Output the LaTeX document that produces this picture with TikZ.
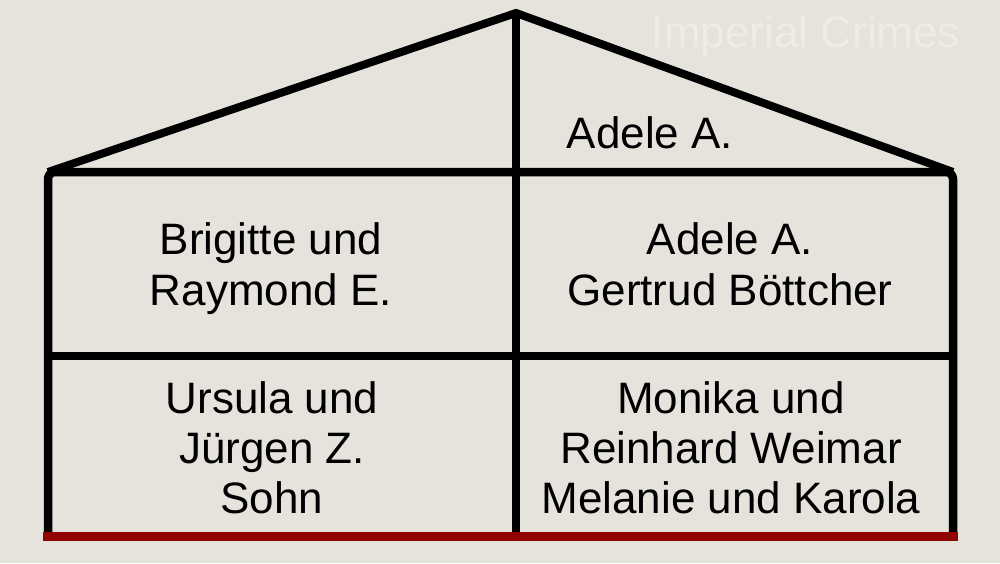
\documentclass[tikz,border=0pt]{standalone}
\usepackage{fontspec}
\setmainfont{Liberation Sans}
\definecolor{bg}{RGB}{230,227,220}
\definecolor{wm}{RGB}{238,236,230}
\definecolor{floorred}{RGB}{145,4,4}
\tikzset{
  wall/.style={line width=8.5pt, line join=round, rounded corners=7pt},
  inner/.style={line width=7.5pt},
  lbl/.style={font=\fontsize{44}{52}\selectfont, anchor=base, inner sep=0pt, text=black},
  wmtext/.style={font=\fontsize{44}{50}\selectfont, anchor=base, inner sep=0pt, text=wm}
}
\begin{document}
\begin{tikzpicture}[x=1pt,y=-1pt]
\useasboundingbox[fill=bg] (0,0) rectangle (1000,563);
\coordinate (apex) at (516,13);
\coordinate (eL) at (48,172);
\coordinate (eR) at (953,172);
\coordinate (fL) at (48,532);
\coordinate (fR) at (953,532);
\coordinate (mL) at (48,356);
\coordinate (mR) at (953,356);
\coordinate (mB) at (516,532);
\coordinate (rL) at (43,536.5);
\coordinate (rR) at (958,536.5);
\node[wmtext] (wmk) at (806,47) {Imperial Crimes};
% roof
\draw[line width=8pt, line join=miter] (eL) -- (apex) -- (eR);
% walls and eave
\draw[wall] (fL) -- (eL) -- (eR) -- (fR);
% inner lines
\draw[inner] (apex) -- (mB);
\draw[inner] (mL) -- (mR);
% floor
\draw[floorred, line width=9pt] (rL) -- (rR);
% texts
\node[lbl] (roof) at (650,148) {Adele A.};
\node[lbl] (b1) at (271,254) {Brigitte und};
\node[lbl] (b2) at (271,305) {Raymond E.};
\node[lbl] (a1) at (730,254) {Adele A.};
\node[lbl] (a2) at (730,305) {Gertrud Böttcher};
\node[lbl] (u1) at (272,413) {Ursula und};
\node[lbl] (u2) at (272,463) {Jürgen Z.};
\node[lbl] (u3) at (272,513) {Sohn};
\node[lbl] (m1) at (731,413) {Monika und};
\node[lbl] (m2) at (731,463) {Reinhard Weimar};
\node[lbl] (m3) at (731,513) {Melanie und Karola};
\end{tikzpicture}
\end{document}
